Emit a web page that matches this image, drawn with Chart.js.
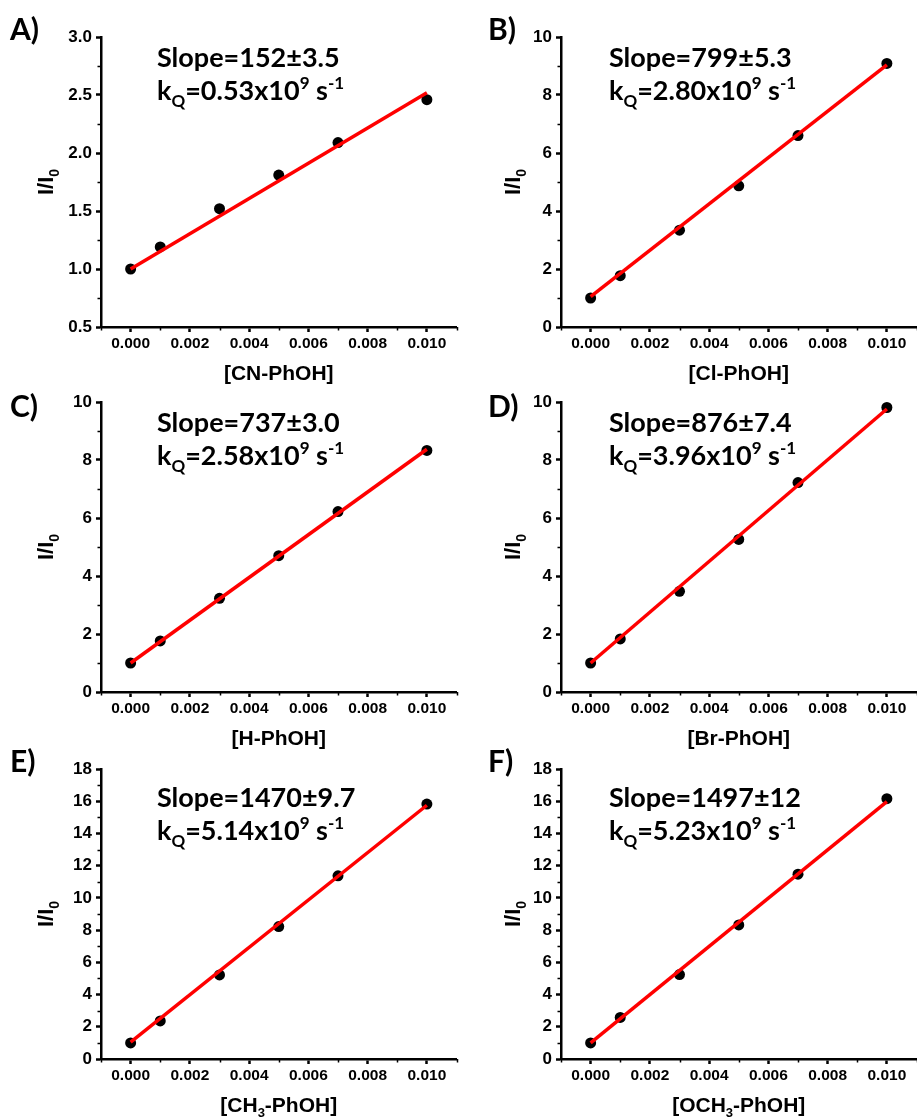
<!DOCTYPE html>
<html>
<head>
<meta charset="utf-8">
<script src="https://cdn.jsdelivr.net/npm/chart.js@4.4.0/dist/chart.umd.min.js"></script>
<style>
  html, body { margin: 0; padding: 0; background: #fff; overflow: hidden; }
  body { position: relative; width: 917px; height: 1117px; }
  canvas { position: absolute; }
</style>
</head>
<body>
<canvas id="panelA" width="462" height="385" style="left:0;top:0"></canvas>
<canvas id="panelB" width="462" height="385" style="left:460px;top:0"></canvas>
<canvas id="panelC" width="462" height="385" style="left:0;top:365px"></canvas>
<canvas id="panelD" width="462" height="385" style="left:460px;top:365px"></canvas>
<canvas id="panelE" width="462" height="385" style="left:0;top:732px"></canvas>
<canvas id="panelF" width="462" height="385" style="left:460px;top:732px"></canvas>
<script>
// quencher concentration (M), same for every panel
const concentration = [0, 0.001, 0.003, 0.005, 0.007, 0.010];
const xTicks = [0, 0.002, 0.004, 0.006, 0.008, 0.010];

// I/I0 measured for each substituted phenol
const ratioCN   = [1.00, 1.19, 1.52, 1.81, 2.09, 2.46];
const ratioCl   = [1.00, 1.77, 3.34, 4.87, 6.60, 9.09];
const ratioH    = [1.00, 1.76, 3.23, 4.70, 6.22, 8.33];
const ratioBr   = [1.00, 1.83, 3.47, 5.26, 7.22, 9.81];
const ratioCH3  = [1.00, 2.36, 5.22, 8.22, 11.37, 15.82];
const ratioOCH3 = [1.00, 2.58, 5.24, 8.32, 11.47, 16.16];

// Stern-Volmer fits
const slopes     = [152, 799, 737, 876, 1470, 1497];
const slopeErr   = ['3.5', '5.3', '3.0', '7.4', '9.7', '12'];
const intercepts = [1.00, 1.05, 1.00, 1.00, 1.05, 1.00];
const kQ         = ['0.53', '2.80', '2.58', '3.96', '5.14', '5.23'];

const panelLetters = ['A)', 'B)', 'C)', 'D)', 'E)', 'F)'];
const xTitles = ['[CN-PhOH]', '[Cl-PhOH]', '[H-PhOH]', '[Br-PhOH]', '[CH{_3}-PhOH]', '[OCH{_3}-PhOH]'];
const ratios = [ratioCN, ratioCl, ratioH, ratioBr, ratioCH3, ratioOCH3];

// y ranges
const yMin  = [0.5, 0, 0, 0, 0, 0];
const yMax  = [3.0, 10, 10, 10, 18, 18];
const yStep = [0.5, 2, 2, 2, 2, 2];

// placement inside each canvas (column / row dependent)
const colLayout = [
  { letterX: 10, textX: 157, yTitleX: 53 },
  { letterX: 28, textX: 149, yTitleX: 60 }
];
const rowLayout = [
  { letterY: 40, textY: 67 },
  { letterY: 52, textY: 67 },
  { letterY: 40, textY: 75 }
];

const NUM_FONT = '"Liberation Sans", Arial, sans-serif';
const TEXT_FONT = 'Lato, "Open Sans", sans-serif';

function richParts(str) {
  const parts = [];
  const re = /\{([_^])([^}]*)\}/g;
  let last = 0, m;
  while ((m = re.exec(str))) {
    if (m.index > last) parts.push({ t: str.slice(last, m.index), k: '' });
    parts.push({ t: m[2], k: m[1] });
    last = re.lastIndex;
  }
  if (last < str.length) parts.push({ t: str.slice(last), k: '' });
  return parts;
}

// text with simple sub/superscripts, baseline at y
function drawRich(ctx, str, x, y, size, family, align) {
  const parts = richParts(str);
  const fontFor = p => 'bold ' + (p.k ? Math.round(size * 0.64) : size) + 'px ' + family;
  let w = 0;
  parts.forEach(p => { ctx.font = fontFor(p); p.w = ctx.measureText(p.t).width; w += p.w; });
  let cx = align === 'center' ? x - w / 2 : x;
  ctx.textAlign = 'left';
  ctx.textBaseline = 'alphabetic';
  parts.forEach(p => {
    ctx.font = fontFor(p);
    const dy = p.k === '_' ? size * 0.26 : (p.k === '^' ? -size * 0.4 : 0);
    ctx.fillText(p.t, cx, y + dy);
    cx += p.w;
  });
}

const decorations = {
  id: 'decorations',
  afterDraw(chart, args, opts) {
    const ctx = chart.ctx;
    const xs = chart.scales.x, ys = chart.scales.y;
    const area = chart.chartArea;
    const col = colLayout[opts.index % 2], row = rowLayout[Math.floor(opts.index / 2)];
    ctx.save();
    ctx.fillStyle = '#000';
    ctx.strokeStyle = '#000';

    // minor ticks halfway between the labelled ones
    ctx.lineWidth = 1.5;
    ctx.beginPath();
    for (let v = -0.001; v <= 0.0115; v += 0.002) {
      const px = Math.round(xs.getPixelForValue(v)) + 0.5;
      ctx.moveTo(px, area.bottom);
      ctx.lineTo(px, area.bottom + 3.5);
    }
    const half = yStep[opts.index] / 2;
    for (let v = yMin[opts.index] + half; v < yMax[opts.index]; v += yStep[opts.index]) {
      const py = Math.round(ys.getPixelForValue(v)) + 0.5;
      ctx.moveTo(area.left, py);
      ctx.lineTo(area.left - 3.5, py);
    }
    ctx.stroke();

    // panel letter
    ctx.font = 'bold 30px ' + TEXT_FONT;
    ctx.textAlign = 'left';
    ctx.textBaseline = 'alphabetic';
    ctx.fillText(panelLetters[opts.index], col.letterX, row.letterY);

    // fit results
    const i = opts.index;
    drawRich(ctx, 'Slope=' + slopes[i] + '\u00b1' + slopeErr[i], col.textX, row.textY, 27, TEXT_FONT, 'left');
    drawRich(ctx, 'k{_Q}=' + kQ[i] + 'x10{^9} s{^-1}', col.textX, row.textY + 33, 27, TEXT_FONT, 'left');

    // axis titles
    drawRich(ctx, xTitles[i], xs.getPixelForValue(0.005), area.bottom + 53, 21, NUM_FONT, 'center');
    ctx.translate(col.yTitleX, (area.top + area.bottom) / 2);
    ctx.rotate(-Math.PI / 2);
    drawRich(ctx, 'I/I{_0}', 0, 0, 22, NUM_FONT, 'center');
    ctx.restore();
  }
};

function makePanel(i) {
  const points = concentration.map((c, k) => ({ x: c, y: ratios[i][k] }));
  const fitEnds = [0, 0.010].map(c => ({ x: c, y: intercepts[i] + slopes[i] * c }));
  const decimals = yStep[i] < 1 ? 1 : 0;
  return new Chart(document.getElementById('panel' + 'ABCDEF'[i]), {
    type: 'scatter',
    data: {
      datasets: [
        { data: fitEnds, showLine: true, borderColor: '#ff0000', borderWidth: 3.5, pointRadius: 0 },
        { data: points, pointRadius: 5.5, pointBackgroundColor: '#000', pointBorderWidth: 0 }
      ]
    },
    options: {
      responsive: false,
      animation: false,
      devicePixelRatio: 1,
      layout: { padding: { top: 37, left: 0, right: 0, bottom: 0 } },
      plugins: { legend: { display: false }, tooltip: { enabled: false }, decorations: { index: i } },
      scales: {
        x: {
          type: 'linear', min: -0.001, max: 0.011,
          afterBuildTicks: s => { s.ticks = xTicks.map(v => ({ value: v })); },
          afterFit: s => { s.height = 58; },
          ticks: { callback: v => v.toFixed(3), color: '#000', padding: 2, maxRotation: 0, autoSkip: false,
                   font: { family: NUM_FONT, size: 15.5, weight: 'bold' } },
          grid: { drawOnChartArea: false, tickLength: 5, tickWidth: 2.5, tickColor: '#000' },
          border: { color: '#000', width: 2.5 }
        },
        y: {
          min: yMin[i], max: yMax[i],
          afterFit: s => { s.width = 101; },
          ticks: { stepSize: yStep[i], callback: v => v.toFixed(decimals), color: '#000', padding: 4,
                   font: { family: NUM_FONT, size: 17, weight: 'bold' } },
          grid: { drawOnChartArea: false, tickLength: 5, tickWidth: 2.5, tickColor: '#000' },
          border: { color: '#000', width: 2.5 }
        }
      }
    },
    plugins: [decorations]
  });
}

for (let i = 0; i < 6; i++) makePanel(i);
</script>
</body>
</html>
